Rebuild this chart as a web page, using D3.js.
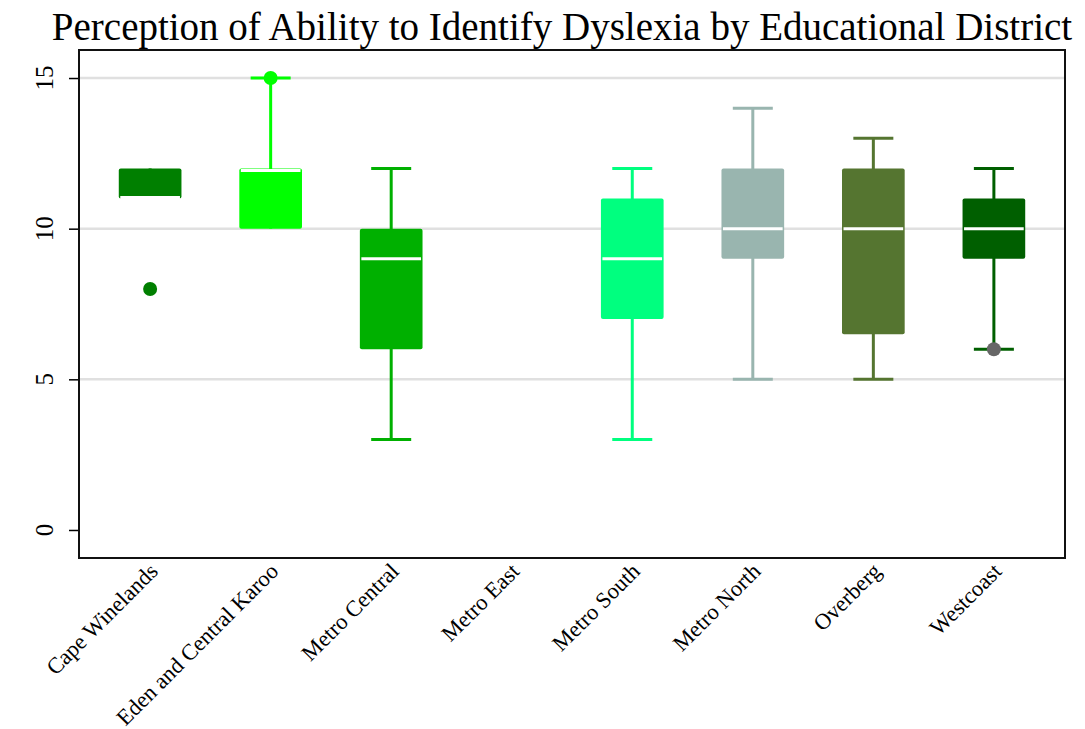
<!DOCTYPE html>
<html>
<head>
<meta charset="utf-8">
<script src="https://cdn.jsdelivr.net/npm/d3@7"></script>
<style>
  body { margin: 0; background: #fff; }
  svg text { font-family: "Liberation Serif", "Times New Roman", serif; }
</style>
</head>
<body>
<div id="chart"></div>
<script>
// Width and height
const WIDTH = 1085;
const HEIGHT = 729;
const margin = { top: 50, right: 20, bottom: 171, left: 79 };
const SERIF = "'Liberation Serif', 'Times New Roman', serif";

// Data
const districts = ["Cape Winelands", "Eden and Central Karoo", "Metro Central", "Metro East",
  "Metro South", "Metro North", "Overberg", "Westcoast"];
const lowerWhisker = [11, 10, 3, null, 3, 5, 5, 6];
const q1 = [11, 10, 6, null, 7, 9, 6.5, 9];
const median = [11, 12, 9, null, 9, 10, 10, 10];
const q3 = [12, 12, 10, null, 11, 12, 12, 11];
const upperWhisker = [12, 15, 12, null, 12, 14, 13, 12];
const outliers = [[8], [15], [], [], [], [], [], [6]];
const boxColors = ["#007f00", "#00ff00", "#00b000", "#00b000", "#00ff7f", "#99b5af", "#557530", "#005f00"];
const outlierColors = ["#007f00", "#00ff00", "#00b000", "#00b000", "#00ff7f", "#99b5af", "#557530", "#666666"];
const yTicks = [0, 5, 10, 15];
const gridTicks = [5, 10, 15];

const innerW = WIDTH - margin.left - margin.right;
const innerH = HEIGHT - margin.top - margin.bottom;

const svg = d3.select("#chart").append("svg")
  .attr("width", WIDTH)
  .attr("height", HEIGHT);

// Scales
const x = d3.scalePoint()
  .domain(districts)
  .range([margin.left, margin.left + innerW])
  .padding(0.59);

const y = d3.scaleLinear()
  .domain([-0.93, 15.93])
  .range([margin.top + innerH, margin.top]);

const step = x.step();
const boxW = step * 0.52;
const capW = 40;

// Title
svg.append("text")
  .attr("x", 562)
  .attr("y", 40)
  .attr("text-anchor", "middle")
  .style("font-family", SERIF)
  .style("font-size", "39px")
  .text("Perception of Ability to Identify Dyslexia by Educational District");

// Gridlines
svg.append("g")
  .selectAll("line")
  .data(gridTicks)
  .enter()
  .append("line")
  .attr("x1", margin.left)
  .attr("x2", margin.left + innerW)
  .attr("y1", (d) => y(d))
  .attr("y2", (d) => y(d))
  .attr("stroke", "#e0e0e0")
  .attr("stroke-width", 2.5);

// Y axis (ticks from d3, labels drawn rotated)
const yAxis = svg.append("g")
  .attr("transform", "translate(" + margin.left + ",0)")
  .call(d3.axisLeft(y).tickValues(yTicks).tickSize(10).tickFormat(""));
yAxis.select(".domain").remove();
yAxis.selectAll(".tick line").attr("stroke", "#000").attr("stroke-width", 1.5);

svg.append("g")
  .selectAll("text")
  .data(yTicks)
  .enter()
  .append("text")
  .attr("transform", (d) => "translate(" + (margin.left - 35) + "," + y(d) + ") rotate(-90)")
  .attr("dy", "0.35em")
  .attr("text-anchor", "middle")
  .style("font-family", SERIF)
  .style("font-size", "25px")
  .attr("fill", "#000")
  .text((d) => d);

// X axis labels
const xAxis = svg.append("g")
  .attr("transform", "translate(0," + (margin.top + innerH) + ")")
  .call(d3.axisBottom(x).tickSize(0).tickPadding(0));
xAxis.select(".domain").remove();
xAxis.selectAll(".tick text")
  .attr("transform", "translate(-1,5) rotate(-45)")
  .attr("x", 0)
  .attr("y", 0)
  .attr("dy", "0.6em")
  .attr("text-anchor", "end")
  .style("font-family", SERIF)
  .style("font-size", "22.5px")
  .attr("fill", "#000");

// Boxes
const idx = d3.range(districts.length).filter((i) => median[i] !== null);

const boxes = svg.append("g")
  .selectAll("g")
  .data(idx)
  .enter()
  .append("g");

// Whiskers
boxes.append("line")
  .attr("x1", (i) => x(districts[i]))
  .attr("x2", (i) => x(districts[i]))
  .attr("y1", (i) => y(upperWhisker[i]))
  .attr("y2", (i) => y(lowerWhisker[i]))
  .attr("stroke", (i) => boxColors[i])
  .attr("stroke-width", 3);

boxes.selectAll(".cap")
  .data((i) => [[i, upperWhisker[i], q3[i]], [i, lowerWhisker[i], q1[i]]].filter((d) => d[1] !== d[2]))
  .enter()
  .append("line")
  .attr("class", "cap")
  .attr("x1", (d) => x(districts[d[0]]) - capW / 2)
  .attr("x2", (d) => x(districts[d[0]]) + capW / 2)
  .attr("y1", (d) => y(d[1]))
  .attr("y2", (d) => y(d[1]))
  .attr("stroke", (d) => boxColors[d[0]])
  .attr("stroke-width", 3);

boxes.append("rect")
  .attr("x", (i) => x(districts[i]) - boxW / 2)
  .attr("width", boxW)
  .attr("y", (i) => y(q3[i]))
  .attr("height", (i) => y(q1[i]) - y(q3[i]))
  .attr("rx", 2)
  .attr("fill", (i) => boxColors[i]);

boxes.append("line")
  .attr("x1", (i) => x(districts[i]) - boxW / 2 + 1.5)
  .attr("x2", (i) => x(districts[i]) + boxW / 2 - 1.5)
  .attr("y1", (i) => y(median[i]) + (median[i] === q3[i] ? 2 : median[i] === q1[i] ? -1 : 0))
  .attr("y2", (i) => y(median[i]) + (median[i] === q3[i] ? 2 : median[i] === q1[i] ? -1 : 0))
  .attr("stroke", "#fff")
  .attr("stroke-width", 3);

// Outliers
boxes.selectAll(".out")
  .data((i) => outliers[i].map((v) => [i, v]))
  .enter()
  .append("circle")
  .attr("class", "out")
  .attr("cx", (d) => x(districts[d[0]]))
  .attr("cy", (d) => y(d[1]))
  .attr("r", 7)
  .attr("fill", (d) => outlierColors[d[0]]);

// Frame
svg.append("rect")
  .attr("x", margin.left)
  .attr("y", margin.top)
  .attr("width", innerW)
  .attr("height", innerH)
  .attr("fill", "none")
  .attr("stroke", "#111")
  .attr("stroke-width", 2);
</script>
</body>
</html>
